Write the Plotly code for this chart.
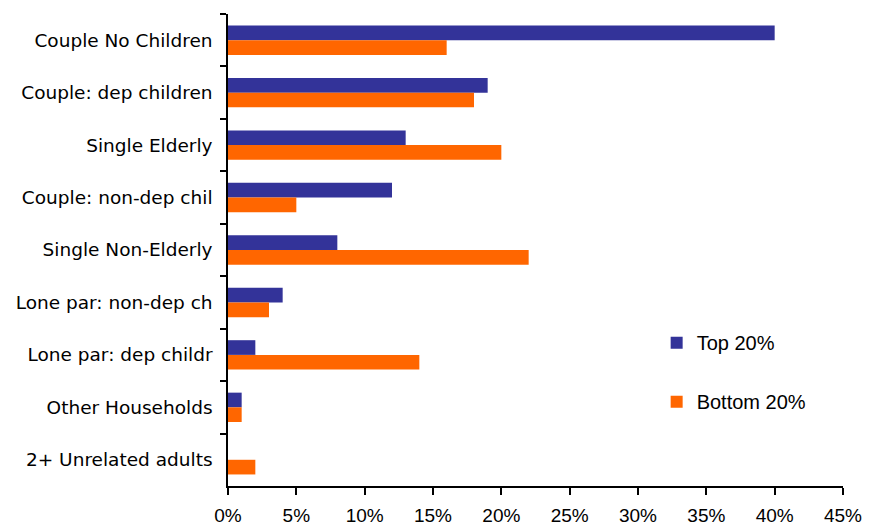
import plotly.graph_objects as go

categories = ["Couple No Children", "Couple: dep children", "Single Elderly",
              "Couple: non-dep chil", "Single Non-Elderly", "Lone par: non-dep ch",
              "Lone par: dep childr", "Other Households", "2+ Unrelated adults"]
top20 = [40, 19, 13, 12, 8, 4, 2, 1, 0]
bottom20 = [16, 18, 20, 5, 22, 3, 14, 1, 2]

fig = go.Figure()
fig.add_trace(go.Bar(y=categories, x=top20, orientation="h", name="Top 20%",
                     marker=dict(color="#333399", line=dict(width=0)), legendgroup="a"))
fig.add_trace(go.Bar(y=categories, x=bottom20, orientation="h", name="Bottom 20%",
                     marker=dict(color="#FF6600", line=dict(width=0)), legendgroup="b"))

fig.update_layout(
    width=869, height=526,
    margin=dict(l=228, r=26, t=14, b=40),
    paper_bgcolor="white", plot_bgcolor="white",
    barmode="group", bargap=0.44, bargroupgap=0,
    legend=dict(x=0.697, y=0.345, xanchor="left", yanchor="top",
                font=dict(family="Liberation Sans, Arial", size=20, color="black"),
                traceorder="grouped", tracegroupgap=30, itemwidth=30,
                bgcolor="rgba(0,0,0,0)"),
)
fig.update_xaxes(range=[0, 45], dtick=5, ticksuffix="%", showgrid=False,
                 showline=True, linecolor="black", linewidth=1.5,
                 ticks="outside", ticklen=7, tickcolor="black", tickwidth=1.5,
                 ticklabelstandoff=4, zeroline=False, automargin=False,
                 tickfont=dict(family="Liberation Sans, Arial", size=19, color="black"))
fig.update_yaxes(autorange="reversed", showgrid=False, showline=True,
                 linecolor="black", linewidth=1.5, ticks="outside", ticklen=6,
                 tickcolor="black", tickwidth=1.5, tickson="boundaries",
                 ticklabelstandoff=10, automargin=False,
                 tickfont=dict(family="DejaVu Sans, Verdana", size=18.5, color="black"))

fig.write_html("out.html")
